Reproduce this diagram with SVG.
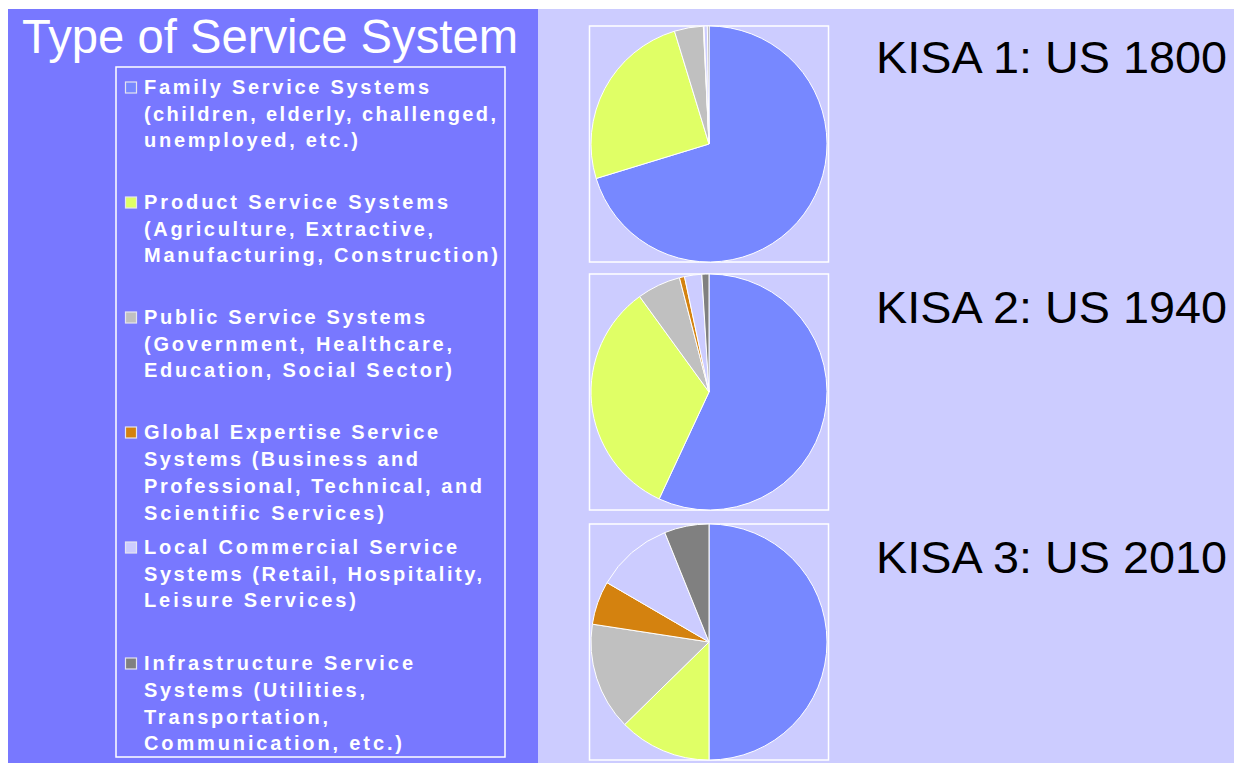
<svg xmlns="http://www.w3.org/2000/svg" width="1234" height="763" viewBox="0 0 1234 763">
<style>
.lg{font-family:"Liberation Sans",Arial,sans-serif;font-weight:bold;font-size:20px;fill:#ffffff}
.kisa{font-family:"Liberation Sans",Arial,sans-serif;font-size:44px;fill:#000000}
.sw{stroke:#e4e4f0;stroke-width:1.2}
.pie path{stroke:#ffffff;stroke-width:1;stroke-linejoin:round}
.box{fill:none;stroke:#ffffff;stroke-width:1.5}
.fam{fill:#7788ff}.prod{fill:#e0ff66}.pub{fill:#c0c0c0}.glob{fill:#d4820f}.loc{fill:#ccccff}.inf{fill:#808080}
</style>
<rect x="0" y="0" width="1234" height="763" fill="#ffffff"/>
<rect id="left-panel" x="8" y="9" width="530" height="754" fill="#7878ff"/>
<rect id="right-panel" x="538" y="9" width="696" height="754" fill="#ccccff"/>
<text id="title" x="22" y="53" font-family="Liberation Sans,Arial,sans-serif" font-size="48" fill="#ffffff" textLength="496" lengthAdjust="spacingAndGlyphs">Type of Service System</text>

<g id="legend">
<rect x="116" y="67" width="389" height="690" fill="none" stroke="#ffffff" stroke-width="1.5"/>
<g id="leg-family">
<rect class="sw fam" x="125.5" y="82" width="11" height="11"/>
<text class="lg" x="144" y="94" textLength="285" lengthAdjust="spacing">Family Service Systems</text>
<text class="lg" x="144" y="120.5" textLength="352" lengthAdjust="spacing">(children, elderly, challenged,</text>
<text class="lg" x="144" y="147" textLength="214" lengthAdjust="spacing">unemployed, etc.)</text>
</g>
<g id="leg-product">
<rect class="sw prod" x="125.5" y="197" width="11" height="11"/>
<text class="lg" x="144" y="209" textLength="304" lengthAdjust="spacing">Product Service Systems</text>
<text class="lg" x="144" y="235.5" textLength="289" lengthAdjust="spacing">(Agriculture, Extractive,</text>
<text class="lg" x="144" y="262" textLength="354" lengthAdjust="spacing">Manufacturing, Construction)</text>
</g>
<g id="leg-public">
<rect class="sw pub" x="125.5" y="312" width="11" height="11"/>
<text class="lg" x="144" y="324" textLength="281" lengthAdjust="spacing">Public Service Systems</text>
<text class="lg" x="144" y="350.5" textLength="308" lengthAdjust="spacing">(Government, Healthcare,</text>
<text class="lg" x="144" y="377" textLength="308" lengthAdjust="spacing">Education, Social Sector)</text>
</g>
<g id="leg-global">
<rect class="sw glob" x="125.5" y="427" width="11" height="11"/>
<text class="lg" x="144" y="439" textLength="294" lengthAdjust="spacing">Global Expertise Service</text>
<text class="lg" x="144" y="466" textLength="274" lengthAdjust="spacing">Systems (Business and</text>
<text class="lg" x="144" y="493" textLength="338" lengthAdjust="spacing">Professional, Technical, and</text>
<text class="lg" x="144" y="520" textLength="240" lengthAdjust="spacing">Scientific Services)</text>
</g>
<g id="leg-local">
<rect class="sw loc" x="125.5" y="542" width="11" height="11"/>
<text class="lg" x="144" y="554" textLength="313" lengthAdjust="spacing">Local Commercial Service</text>
<text class="lg" x="144" y="580.5" textLength="338" lengthAdjust="spacing">Systems (Retail, Hospitality,</text>
<text class="lg" x="144" y="607" textLength="212" lengthAdjust="spacing">Leisure Services)</text>
</g>
<g id="leg-infra">
<rect class="sw inf" x="125.5" y="658" width="11" height="11"/>
<text class="lg" x="144" y="670" textLength="269" lengthAdjust="spacing">Infrastructure Service</text>
<text class="lg" x="144" y="697" textLength="221" lengthAdjust="spacing">Systems (Utilities,</text>
<text class="lg" x="144" y="723.5" textLength="184" lengthAdjust="spacing">Transportation,</text>
<text class="lg" x="144" y="750" textLength="258" lengthAdjust="spacing">Communication, etc.)</text>
</g>
</g>

<g id="pie-1800" class="pie">
<rect class="box" x="589.5" y="26" width="239" height="236"/>
<path class="fam" d="M709,144 L709,26 A118,118 0 1 1 596.16,178.5 Z"/>
<path class="prod" d="M709,144 L596.16,178.5 A118,118 0 0 1 674.5,31.16 Z"/>
<path class="pub" d="M709,144 L674.5,31.16 A118,118 0 0 1 703.34,26.14 Z"/>
<path class="glob" d="M709,144 L703.34,26.14 A118,118 0 0 1 703.96,26.11 Z"/>
<path class="loc" d="M709,144 L703.96,26.11 A118,118 0 0 1 707.35,26.01 Z"/>
<path class="inf" d="M709,144 L707.35,26.01 A118,118 0 0 1 709,26 Z"/>
</g>

<g id="pie-1940" class="pie">
<rect class="box" x="589.5" y="274" width="239" height="236"/>
<path class="fam" d="M709,392 L709,274 A118,118 0 1 1 659.13,498.94 Z"/>
<path class="prod" d="M709,392 L659.13,498.94 A118,118 0 0 1 639.64,296.54 Z"/>
<path class="pub" d="M709,392 L639.64,296.54 A118,118 0 0 1 679.45,277.76 Z"/>
<path class="glob" d="M709,392 L679.45,277.76 A118,118 0 0 1 684.47,276.58 Z"/>
<path class="loc" d="M709,392 L684.47,276.58 A118,118 0 0 1 701.8,274.22 Z"/>
<path class="inf" d="M709,392 L701.8,274.22 A118,118 0 0 1 709,274 Z"/>
</g>

<g id="pie-2010" class="pie">
<rect class="box" x="589.5" y="524" width="239" height="236"/>
<path class="fam" d="M709,642 L709,524 A118,118 0 0 1 709,760 Z"/>
<path class="prod" d="M709,642 L709,760 A118,118 0 0 1 624.69,724.56 Z"/>
<path class="pub" d="M709,642 L624.69,724.56 A118,118 0 0 1 592.36,624.15 Z"/>
<path class="glob" d="M709,642 L592.36,624.15 A118,118 0 0 1 607.01,582.65 Z"/>
<path class="loc" d="M709,642 L607.01,582.65 A118,118 0 0 1 664.8,532.59 Z"/>
<path class="inf" d="M709,642 L664.8,532.59 A118,118 0 0 1 709,524 Z"/>
</g>

<g id="labels">
<text id="kisa1" class="kisa" x="876" y="73" textLength="351" lengthAdjust="spacingAndGlyphs">KISA 1: US 1800</text>
<text id="kisa2" class="kisa" x="876" y="323" textLength="351" lengthAdjust="spacingAndGlyphs">KISA 2: US 1940</text>
<text id="kisa3" class="kisa" x="876" y="573" textLength="351" lengthAdjust="spacingAndGlyphs">KISA 3: US 2010</text>
</g>
</svg>
